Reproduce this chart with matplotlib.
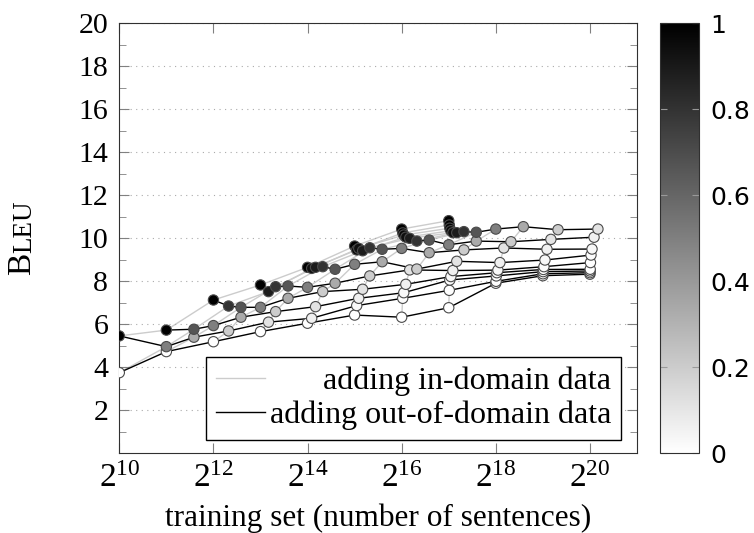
import numpy as np
import matplotlib
matplotlib.use("Agg")
import matplotlib.pyplot as plt
from matplotlib.colors import LinearSegmentedColormap
from matplotlib.lines import Line2D
from matplotlib.ticker import FixedLocator, NullLocator, MultipleLocator, FuncFormatter

plt.rcParams['font.family'] = ['Liberation Serif', 'DejaVu Serif']
plt.rcParams['mathtext.fontset'] = 'custom'
plt.rcParams['mathtext.rm'] = 'Liberation Serif'
plt.rcParams['mathtext.it'] = 'Liberation Serif:italic'

# number of in-domain sentences (0 = out-of-domain data only)
in_domain = [0, 2**10, 2**11, 2**12, 2**13, 2**14, 2**15, 2**16, 2**17]
# number of out-of-domain sentences added
out_domain = [0, 2**10, 2**11, 2**12, 2**13, 2**14, 2**15, 2**16, 2**17, 2**18, 2**19, 2**20]

# BLEU per in-domain size, one value per out-of-domain size
bleu_in_0 = [np.nan, 3.75, 4.73, 5.19, 5.66, 6.05, 6.43, 6.33, 6.77, 7.91, 8.26, 8.33]
bleu_in_2_10 = [5.46, 4.96, 5.40, 5.69, 6.10, 6.28, 6.87, 7.21, 7.58, 8.00, 8.35, 8.40]
bleu_in_2_11 = [5.73, 5.77, 5.94, 6.33, 6.59, 6.82, 7.21, 7.47, 8.06, 8.25, 8.45, 8.48]
bleu_in_2_12 = [7.13, 6.85, 6.79, 6.79, 7.21, 7.52, 7.63, 7.86, 8.22, 8.40, 8.55, 8.56]
bleu_in_2_13 = [7.83, 7.52, 7.75, 7.78, 7.72, 7.91, 8.25, 8.53, 8.50, 8.52, 8.68, 8.87]
bleu_in_2_14 = [8.65, 8.60, 8.65, 8.68, 8.56, 8.79, 8.91, 8.57, 8.93, 8.87, 8.99, 9.22]
bleu_in_2_15 = [9.64, 9.46, 9.53, 9.42, 9.56, 9.49, 9.53, 9.33, 9.46, 9.55, 9.49, 9.50]
bleu_in_2_16 = [10.43, 10.25, 10.15, 10.05, 10.00, 9.87, 9.92, 9.70, 9.87, 9.84, 9.95, 10.05]
bleu_in_2_17 = [10.82, 10.62, 10.47, 10.35, 10.26, 10.26, 10.31, 10.28, 10.43, 10.54, 10.40, 10.43]

bleu = np.array([bleu_in_0, bleu_in_2_10, bleu_in_2_11, bleu_in_2_12, bleu_in_2_13,
                 bleu_in_2_14, bleu_in_2_15, bleu_in_2_16, bleu_in_2_17])
ii, oo = np.meshgrid(in_domain, out_domain, indexing='ij')
total = (ii + oo).astype(float)
with np.errstate(invalid='ignore', divide='ignore'):
    ratio = ii / total

light = '#cccccc'
cmap = LinearSegmentedColormap.from_list('bw', ['white', 'black'])

fig = plt.figure(figsize=(7.54, 5.33), dpi=100)
ax = fig.add_axes([119.3 / 754, 1 - 453.3 / 533, (637 - 119.3) / 754, (453.3 - 23.3) / 533])

# adding in-domain data: same out-of-domain amount
for j in range(len(out_domain)):
    m = ~np.isnan(bleu[:, j])
    ax.plot(total[m, j], bleu[m, j], color=light, lw=1.0, zorder=1)
# adding out-of-domain data: same in-domain amount
for i in range(len(in_domain)):
    m = ~np.isnan(bleu[i])
    ax.plot(total[i, m], bleu[i, m], color='black', lw=1.0, zorder=2)

m = ~np.isnan(bleu)
sc = ax.scatter(total[m], bleu[m], c=ratio[m], cmap=cmap, vmin=0, vmax=1, s=55,
                edgecolors='#4a4a4a', linewidths=0.8, zorder=3)

ax.set_xscale('log', base=2)
ax.set_xlim(2**10, 2**21)
ax.set_ylim(0, 20)
ax.xaxis.set_major_locator(FixedLocator([2**k for k in range(10, 21, 2)]))
ax.xaxis.set_minor_locator(NullLocator())
ax.xaxis.set_major_formatter(FuncFormatter(lambda v, p: r'$2^{%d}$' % round(np.log2(v))))
ax.yaxis.set_major_locator(FixedLocator(range(2, 21, 2)))
ax.yaxis.set_minor_locator(MultipleLocator(1))
ax.tick_params(which='both', direction='in', top=True, right=True, color='#808080',
               labelsize=21.5, pad=8)
ax.tick_params(axis='x', labelsize=24, pad=7)
ax.tick_params(which='major', length=7)
ax.tick_params(which='minor', length=5)
ax.grid(axis='y', which='major', linestyle=(0, (1, 4)), color='#aaaaaa', lw=0.8)
for s in ax.spines.values():
    s.set_color('#303030')

ax.set_xlabel('training set (number of sentences)', fontsize=22.5)
ax.xaxis.set_label_coords(0.5, -0.117)

b = fig.text(37 / 754, 1 - 275 / 533, 'B', fontsize=24, rotation=90,
             ha='left', va='bottom', rotation_mode='anchor')
ax.annotate('LEU', xy=(1, 1), xycoords=b, fontsize=19.5, rotation=90,
            ha='left', va='bottom', rotation_mode='anchor', annotation_clip=False)

handles = [Line2D([], [], color=light, lw=1.0), Line2D([], [], color='black', lw=1.0)]
leg = ax.legend(handles, ['adding in-domain data', 'adding out-of-domain data'],
                loc='lower right', bbox_to_anchor=(0.969, 0.031), borderaxespad=0,
                fontsize=23, handlelength=1.55, handletextpad=0.15, labelspacing=0.15,
                borderpad=0.3, fancybox=False, framealpha=1, edgecolor='black')
leg.get_frame().set_linewidth(1.0)

cax = fig.add_axes([660 / 754, 1 - 453.3 / 533, 39 / 754, (453.3 - 23.3) / 533])
cb = fig.colorbar(sc, cax=cax)
cb.set_ticks([0, 0.2, 0.4, 0.6, 0.8, 1])
cb.set_ticklabels(['0', '0.2', '0.4', '0.6', '0.8', '1'])
cax.tick_params(direction='in', left=True, right=True, color='#999999', length=5,
                labelsize=18, labelfontfamily='DejaVu Sans', pad=8)
cb.outline.set_edgecolor('#303030')

# right-align the legend texts while keeping the lines on the left
fig.canvas.draw()
renderer = fig.canvas.get_renderer()
col = leg._legend_handle_box.get_children()[0]
rows = col.get_children()
width = max(r.get_bbox(renderer).width for r in rows)
for r in rows:
    r.mode = 'expand'
col.width = width

fig.savefig('out.png', dpi=100)
